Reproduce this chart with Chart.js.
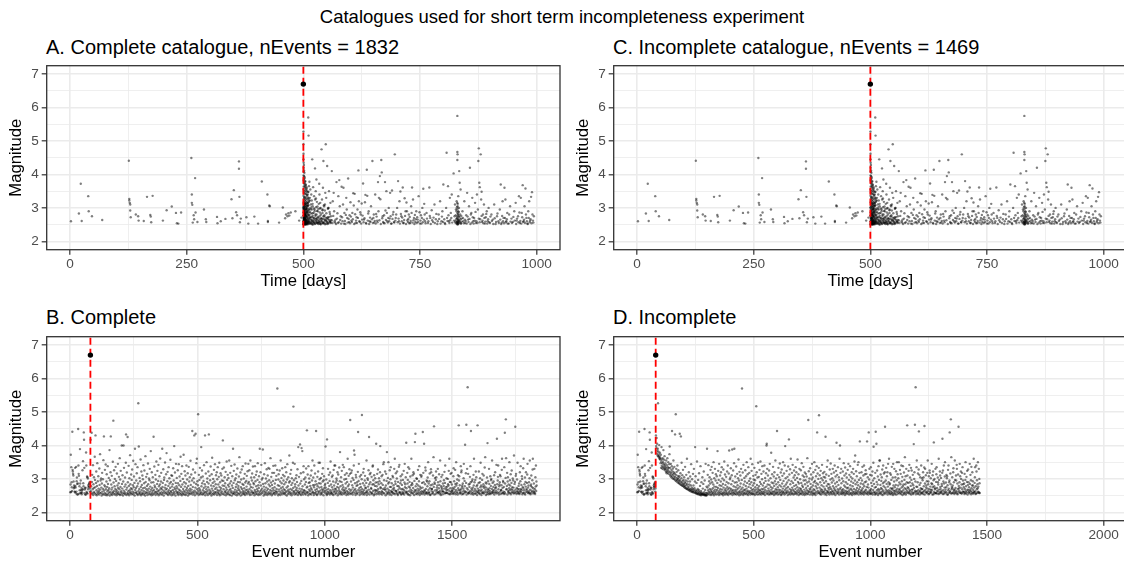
<!DOCTYPE html>
<html>
<head>
<meta charset="utf-8">
<script src="https://cdn.jsdelivr.net/npm/chart.js@4.4.1/dist/chart.umd.min.js"></script>
<style>
  body { margin: 0; width: 1124px; height: 564px; overflow: hidden; background: #fff; position: relative; font-family: "Liberation Sans", Arial, sans-serif; }
  canvas { position: absolute; }
  .title { position: absolute; white-space: nowrap; color: #000; line-height: 1; }
</style>
</head>
<body>
<div class="title" style="left:0;width:1124px;text-align:center;top:8px;font-size:18.5px">Catalogues used for short term incompleteness experiment</div>
<div class="title" style="left:46px;top:37px;font-size:20px">A. Complete catalogue, nEvents = 1832</div>
<div class="title" style="left:613px;top:37px;font-size:20px">C. Incomplete catalogue, nEvents = 1469</div>
<div class="title" style="left:46px;top:307px;font-size:20px">B. Complete</div>
<div class="title" style="left:613px;top:307px;font-size:20px">D. Incomplete</div>

<canvas id="panelA" width="566" height="263" style="left:0;top:30px"></canvas>
<canvas id="panelC" width="566" height="263" style="left:566.6px;top:30px"></canvas>
<canvas id="panelB" width="566" height="264" style="left:0;top:300px"></canvas>
<canvas id="panelD" width="566" height="264" style="left:566.6px;top:300px"></canvas>

<script>
/* Mainshock. */
const mainshockTime = 500
const mainshockMag = 6.7
const mainshockEvent = 80
const firstAftershockEvent = 81

/* Events before the mainshock: [time in days, magnitude], in catalogue order. */
const preShock = [
  [2,2.6],[19,2.83],[23,3.72],[25,2.61],[39,3.35],[40,2.9],[47,2.75],[69,2.64],[126,4.41],[127,3.27],
  [127,3.22],[128,3.15],[129,3.1],[129,2.92],[130,2.72],[141,2.8],[146,2.75],[147,2.62],[158,2.61],[165,3.33],
  [172,2.79],[173,2.74],[174,2.57],[177,3.36],[199,2.62],[207,2.93],[218,3.04],[227,2.85],[229,2.54],[232,2.53],
  [238,2.86],[260,4.49],[261,3.4],[261,3.15],[262,3.09],[263,2.56],[265,2.78],[266,2.66],[268,3.89],[269,2.86],
  [273,2.58],[287,2.95],[291,2.66],[292,2.58],[315,2.73],[316,2.54],[323,2.6],[333,2.67],[346,3.26],[348,2.69],
  [351,3.53],[356,2.87],[358,2.78],[362,4.39],[362,4.17],[363,3.33],[364,2.57],[366,2.68],[378,2.72],[382,2.53],
  [395,2.74],[403,2.53],[411,3.79],[423,3.4],[424,2.61],[424,2.58],[427,3.07],[428,3.05],[448,2.56],[456,3.01],
  [461,2.69],[463,2.8],[466,2.75],[468,2.84],[470,2.77],[473,2.86],[483,2.9],[491,2.62],[496,2.71]
]

/* Aftershocks in both catalogues: [time in days, magnitude]. */
const aftershockColumn = [
  [500.1,5.28],[500.2,4.9],[500.3,4.62],[500.4,4.45],[500.6,4.35],[501.2,4.28],[500.8,4.2],[501.5,4.12],[502.3,4.05],[500.5,3.97],
  [503,3.92],[501,3.86],[504.2,3.8],[502,3.74],[505.1,3.7],[500.9,3.64],[503.6,3.6],[506.3,3.55],[501.7,3.5],[504.8,3.46],
  [502.6,3.42],[507.4,3.39],[500.3,3.36],[503.3,3.33],[505.7,3.3],[501.4,3.28],[508.2,3.25],[502.9,3.22],[504.5,3.2],[500.7,3.17],
  [506.8,3.15],[503.9,3.13],[501.9,3.1],[505.4,3.08],[508.7,3.06],[502.2,3.04],[504,3.02],[500.4,3],[507,2.98],[503.1,2.96],
  [501.3,2.95],[505.9,2.93],[502.5,2.91],[508,2.9],[504.6,2.88],[500.6,2.87],[506.5,2.85],[503.5,2.84],[501.6,2.82],[507.7,2.81],
  [502.8,2.8],[505.2,2.78],[500.2,2.77],[504.3,2.75],[508.9,2.74],[501.1,2.73],[506.1,2.72],[503.7,2.7],[502.1,2.69],[507.2,2.68],
  [500.8,2.67],[505,2.66],[504.1,2.65],[501.8,2.64],[508.4,2.63],[503.2,2.62],[506.7,2.61],[500.5,2.6],[502.4,2.59],[505.6,2.58],
  [504.9,2.57],[501.5,2.56],[507.9,2.55],[503.4,2.55],[500.9,2.54],[506,2.53],[502.7,2.52],[505.3,2.52],[501,2.51],[508.5,2.51],
  [503.8,2.5],[500.3,2.5],[504.7,2.5],
  [500.4,3.55],[501.1,3.45],[502.2,3.72],[503.4,3.65],[504.6,3.52],[505.8,3.41],[507,3.58],[508.3,3.35],[509.5,3.47],[510.6,3.3],
  [511.8,3.22],[500.7,3.82],[501.9,3.31],[503.1,3.15],[504.4,3.26],[505.5,3.12],[506.9,3.05],[508.1,2.98],[509.2,3.14],[510.3,2.92],
  [511.5,2.86],[500.2,3.02],[501.5,2.91],[502.8,3.07],[504,2.83],[505.3,2.97],[506.5,2.76],[507.8,2.88],[509,2.71],[510.2,2.8],
  [511.2,2.66],[500.9,2.77],[502.2,2.69],[503.6,2.58],[504.9,2.64],[506.2,2.53],[507.5,2.6],[508.7,2.55],[509.9,2.62],[511,2.52],
  [512,2.57],[500.6,4.08],[501.4,3.95],[502.6,3.88],[503.8,3.78],[505,3.68],[506.7,3.62],[508,3.5],[509.4,3.4],[510.9,3.28],
  [512.2,3.18],[501.2,2.6],[503,2.7],[504.7,2.79],[506.4,2.95],[508.5,3.1],[510,3.06],[511.6,2.94],[502.9,2.53],[507.3,2.51]
]
const earlyAftershocks = [
  [510.5,5.7],[511.2,5.16],[513,3.78],[519,4.45],[525,4.18],[512,3.65],[515,3.55],[511,3.48],[517,3.4],[521,3.62],
  [514,3.3],[523,3.35],[518,3.22],[527,3.28],[510,3.15],[516,3.1],[529,3.18],[520,3.05],[533,3.12],[512.5,2.98],
  [524,2.95],[537,3],[514.5,2.88],[531,2.9],[519.5,2.84],[541,2.85],[511.5,2.78],[526,2.8],[535,2.76],[516.5,2.72],
  [545,2.74],[522,2.7],[530,2.68],[513.5,2.65],[539,2.66],[527.5,2.62],[518.5,2.6],[548,2.62],[533.5,2.58],[510.8,2.57],
  [523.5,2.56],[543,2.55],[529.5,2.54],[515.5,2.53],[551,2.52],[537.5,2.51],[520.5,2.5],[547,3.45],[539,4.75],[548,4.9],
  [543,4.4],[551,4.25],[561,4.1],[528,3.85],[534,3.72],[542,3.6],[555,3.5],[549,3.3],[558,3.15],[553,3],
  [546,2.92],[557,2.82],[552,2.7],[556,2.6],[559,2.55],[534.5,3.4],[540,3.25],[526.5,3.5],[532,2.97],[544,3.08],
  [505.5,2.62],[506.8,2.74],[507.6,2.57],[508.8,2.86],[509.7,2.55],[510.4,2.68],[511.4,2.59],[512.7,2.78],[513.3,2.53],[514.2,2.7],
  [515.2,2.96],[516.3,2.58],[517.7,2.65],[518.3,2.54],[519.2,2.73],[520.8,2.61],[521.7,2.85],[522.3,2.55],[523.2,2.64],[524.6,2.52],
  [525.8,2.76],[526.2,2.59],[527.6,2.69],[528.7,2.56],[529.2,2.91],[530.6,2.63],[531.7,2.54],[532.9,2.71],[534.2,2.57],[535.6,2.66],
  [536.3,2.52],[537.8,2.8],[538.6,2.6],[540.2,2.68],[541.6,2.55],[542.8,2.75],[544.2,2.58],[545.7,2.64],[547.2,2.53],[548.6,2.7],
  [550.2,2.59],[551.8,2.66],[553.2,2.55],[555.4,2.73],[557.2,2.57],[558.6,2.64],[506.2,3.02],[508.2,3.18],[510.8,3.08],[513.8,3.22],
  [516.8,3.01],[519.8,3.12],[522.6,2.98],[525.2,3.25],[530.3,3.04],[536.2,3.15],[541.2,2.95],[546.2,3.1],[554.2,3]
]
const midAftershocks = [
  [563,3.2],[566,2.9],[569,2.65],[571,3.77],[574,2.55],[577,3.83],[578,3.05],[580,2.75],[582,3.63],[584,2.6],
  [586,3.6],[588,2.85],[590,2.52],[592,3.3],[594,2.7],[596,3.88],[598,2.58],[565,3.45],[575,3.35],[585,3.1],
  [593,2.95],[599,2.78],[568,2.56],[587,2.53],
  [601,3.17],[603,2.62],[605,2.85],[607,3.44],[608,3.07],[610,3.42],[612,2.55],[614,2.72],[616,2.95],[618,4.12],
  [619,3.2],[621,2.58],[623,2.8],[625,3.13],[628,3.73],[630,2.65],[632,3.17],[633,3.39],[635,2.53],[636,4.14],
  [637,3.36],[640,2.9],[642,2.6],[645,3.05],[648,4.4],[650,2.7],[652,2.56],[654,3.4],[656,2.82],[658,2.62],
  [660,3.77],[662,3.3],[664,3.95],[665,3.26],[667,4.43],[668,4.06],[670,2.75],[672,2.55],[675,3.77],[676,2.92],
  [678,3.5],[680,2.6],[683,3],[685,2.68],[686,3.45],[688,2.53],[690,3.52],[692,2.8],[694,2.58],[696,4.6],[698,2.7],
  [701,3],[703,3.8],[705,2.6],[706,3.2],[708,3.49],[710,2.75],[713,3.61],[715,2.55],[717,3.29],[719,2.9],
  [721,3.16],[723,2.63],[726,2.8],[729,2.55],[731,3.05],[733,3.61],[735,3.25],[737,2.7],[740,2.58],[742,2.9],
  [745,2.65],[747,3.35],[750,2.53],[752,2.78],[755,3],[757,3.57],[759,3.12],[761,2.6],[764,2.85],[767,2.55],
  [770,3.61],[772,2.7],[775,2.93],[778,2.58],[781,3.1],[784,2.66],[787,2.52],[790,2.8],[793,3.2],[796,2.6],
  [798,2.9],[800,3.7],[803,2.55],[806,3],[807,4.65],[808,2.7],[810,3.65],[812,2.6],[814,3.3],[816,2.85],
  [818,3.4],[819,2.56]
]
const clusterAftershocks = [
  [822,4.03],[824,2.75],[825,3.1],[826,2.6],[827,2.95],[828,2.55],[828.5,3.2],[829,2.7],[829.5,2.58],[830,5.75],
  [830,4.67],[830.5,4.6],[830,4.43],[830.2,2.85],[830.6,3.05],[831,2.52],[831.3,2.65],[831.8,2.9],[832,3.35],[832.5,2.56],
  [833,2.75],[833.5,3],[834,4.1],[834.5,2.62],[835,3.75],[836,2.8],[837,3.55],[838,2.53],[839,2.68],[830.8,2.5],
  [829.8,3.15],[831.5,2.78],
  [823,2.62],[825.5,2.56],[826.5,2.78],[827.5,2.66],[828.2,2.9],[828.8,2.52],[829.2,3.02],[829.6,2.74],[830.1,2.6],[830.3,2.97],
  [830.4,2.55],[830.7,2.68],[830.9,3.12],[831.2,2.58],[831.6,2.82],[832.2,2.64],[832.8,2.53],[833.2,2.88],[833.8,2.6],[834.3,2.72],
  [835.5,2.57],[836.5,2.66],[837.5,2.54],[838.5,2.76],[839.5,2.59]
]
const lateAftershocks = [
  [841,2.9],[843,2.6],[845,3.2],[847,2.55],[849,2.78],[851,3.45],[853,2.65],[855,3.05],[857,4.2],[858,2.52],
  [860,2.85],[862,3.3],[864,2.6],[866,2.7],[868,3.15],[870,2.55],[872,3.4],[874,2.95],[875,4.4],[876,4.78],
  [877,3.75],[878,3.62],[879,2.66],[880,4.6],[881,3.25],[882,3.48],[883,2.58],[885,2.8],[887,3.1],[889,2.53],
  [891,2.72],[893,2.9],[895,2.6],[897,3],[900,2.55],[903,2.8],[906,2.65],[909,3.1],[912,2.52],[915,2.75],
  [918,2.6],[921,2.95],[923,3.7],[925,2.56],[927,3.2],[929,2.7],[931,3.6],[933,3.25],[935,2.6],[937,2.85],
  [940,2.53],[943,3.05],[946,2.68],[949,2.58],[952,2.9],[955,3.15],[957,2.62],[960,2.75],[962,3.35],[964,2.55],
  [966,3.3],[968,2.85],[970,3.68],[972,2.6],[974,3.05],[976,3.58],[978,2.7],[980,2.53],[982,2.9],[984,3.2],
  [986,2.62],[988,3.33],[990,3.47],[991,2.8],[993,2.56]
]
const lowBandAftershocks = [
  [512.3,2.6],[513.6,2.72],[514.8,2.55],[516,2.83],[517.3,2.64],[518.7,2.51],[520,2.77],[521.4,2.58],[522.8,2.69],[524.1,2.9],
  [525.5,2.53],[526.9,2.66],[528.3,2.8],[529.7,2.57],[531.1,2.73],[532.5,2.52],[533.9,2.62],[535.3,2.86],[536.7,2.55],[538.1,2.7],
  [539.5,2.6],[540.9,2.93],[542.3,2.54],[543.7,2.67],[545.1,2.78],[546.5,2.51],[547.9,2.63],[549.3,2.84],[550.7,2.57],[552.1,2.72],
  [553.5,2.53],[554.9,2.65],[556.3,2.88],[557.7,2.59],[559.1,2.75],[518,2.95],[527.2,3.02],[535.8,2.98],[544.5,3.05],[552.6,2.97],
  [561,2.63],[562.5,2.55],[564,2.76],[567,2.6],[570,2.52],[572,2.68],[573,2.84],[576,2.57],[579,2.64],[581,2.53],
  [583,2.72],[589,2.61],[591,2.79],[595,2.56],[597,2.67],[600,2.54],[602,2.74],[604,2.58],[606,2.66],[609,2.52],
  [611,2.81],[613,2.62],[615,2.55],[617,2.7],[620,2.6],[622,2.87],[624,2.53],[626,2.65],[627,2.77],[629,2.57],
  [631,2.69],[634,2.55],[638,2.62],[639,2.83],[641,2.52],[643,2.71],[644,2.58],[647,2.66],[649,2.55],[651,2.8],
  [653,2.61],[655,2.53],[657,2.74],[659,2.57],[661,2.9],[663,2.63],[666,2.52],[669,2.69],[671,2.58],[673,2.78],
  [674,2.54],[677,2.64],[679,2.85],[681,2.56],[682,2.7],[684,2.6],[687,2.75],[689,2.53],[691,2.67],[693,2.88],
  [695,2.56],[697,2.62],[699,2.8],
  [702,2.57],[704,2.68],[707,2.53],[709,2.82],[711,2.6],[712,2.71],[714,2.55],[716,2.64],[718,2.76],[720,2.52],
  [722,2.9],[724,2.58],[725,2.67],[727,2.54],[728,2.73],[730,2.61],[732,2.85],[734,2.56],[736,2.63],[738,2.52],
  [739,2.79],[741,2.66],[743,2.55],[744,2.72],[746,2.58],[749,2.87],[751,2.62],[753,2.53],[754,2.7],[756,2.57],
  [758,2.65],[760,2.8],[762,2.54],[765,2.68],[768,2.6],[771,2.76],[773,2.52],[776,2.63],[779,2.71],[782,2.55],
  [785,2.82],[788,2.6],[791,2.67],[794,2.53],[797,2.74],[799,2.58],[802,2.66],[804,2.52],[809,2.61],[811,2.78],
  [813,2.55],[815,2.64],[817,2.7],
  [842,2.7],[844,2.54],[846,2.65],[848,2.61],[850,2.53],[852,2.74],[854,2.58],[856,2.67],[859,2.8],[861,2.56],
  [863,2.72],[865,2.53],[867,2.62],[869,2.88],[871,2.6],[873,2.55],[876,2.68],[878,2.57],[882,2.76],[884,2.62],
  [886,2.54],[888,2.7],[890,2.59],[892,2.82],[894,2.53],[896,2.66],[898,2.57],[901,2.74],[904,2.61],[907,2.52],
  [910,2.69],[913,2.58],[916,2.83],[919,2.55],[922,2.65],[924,2.52],[926,2.76],[928,2.6],[930,2.54],[932,2.7],
  [934,2.57],[936,2.66],[938,2.53],[941,2.8],[944,2.59],[947,2.55],[950,2.73],[953,2.62],[956,2.52],[958,2.68],
  [961,2.57],[963,2.86],[965,2.61],[967,2.53],[969,2.72],[971,2.58],[973,2.65],[975,2.55],[977,2.8],[979,2.6],
  [981,2.52],[983,2.7],[985,2.57],[987,2.66],[989,2.54],[992,2.62],[994,2.75]
]
/* Early small aftershocks that only the complete catalogue has. */
const droppedAftershocks = [
  [500.2,2.52],[500.4,2.58],[500.6,2.63],[500.8,2.7],[501,2.55],[501.2,2.76],[501.4,2.6],[501.6,2.83],[501.8,2.53],[502,2.66],
  [502.2,2.9],[502.4,2.57],[502.6,2.72],[502.8,2.62],[503,2.8],[500.3,2.97],[500.7,3.05],[501.1,2.51],[501.5,2.68],[501.9,2.94],
  [502.3,2.54],[502.7,2.78],[500.5,3.12],[500.9,2.86],[501.3,3],[501.7,2.59],[502.1,2.75],[502.5,3.1],[502.9,2.56],[503.2,2.65]
]

/* Aftershock magnitudes in catalogue order, from event 81 on. Complete catalogue (events 81-1832). */
const completeAftershockMags = [
  4.17,2.63,2.78,2.55,4.38,2.91,3.12,2.58,2.69,3.41,2.52,2.84,2.73,3.05,2.61,2.57,3.66,2.97,2.75,4.3,
  2.54,2.88,3.22,2.66,2.51,2.79,3.47,2.6,2.93,2.56,3.08,2.71,2.64,2.53,3.31,2.82,2.59,3.74,2.68,2.95,
  2.57,3.01,2.74,2.5,2.86,3.18,2.62,2.55,2.99,2.7,3.56,2.53,4.27,2.65,2.81,2.58,3.27,2.77,2.52,3.43,
  2.69,2.56,2.92,3.14,2.51,2.76,2.63,3.38,2.85,2.54,2.67,3.03,2.59,2.72,3.86,2.5,2.96,2.61,3.2,4.27,
  2.55,2.83,2.68,3.09,2.52,2.74,2.6,3.51,2.57,4.74,2.89,2.64,3.26,2.53,2.78,3,2.56,2.7,3.36,2.62,
  2.94,2.51,2.66,3.16,2.58,2.8,2.54,3.45,2.73,2.61,2.87,3.06,2.55,2.69,3.62,2.52,2.98,2.76,3.24,2.59,
  2.63,2.53,4,2.85,2.71,3.11,2.57,2.5,2.92,4,2.65,3.33,2.56,2.77,2.6,3.04,2.54,2.83,3.48,4.33,
  2.68,2.52,3.19,2.74,2.58,4.25,2.9,2.55,2.63,3.39,2.79,2.51,3.02,2.66,2.57,3.71,2.84,2.6,2.72,3.13,
  2.54,2.97,2.69,3.28,2.56,2.62,2.81,3.54,2.53,2.75,3.07,2.59,2.88,2.5,3.9,2.67,3.44,2.58,2.73,2.95,
  2.61,3.17,2.55,2.78,3.35,2.52,2.86,5.26,2.64,3.97,2.57,2.7,3.03,2.54,2.93,2.6,3.58,2.76,2.51,3.22,
  2.66,2.82,2.55,3.1,2.58,2.99,2.72,3.41,2.53,2.63,2.87,3.25,2.56,2.74,2.5,3.68,2.91,2.6,3.06,2.69,
  2.57,2.79,3.15,2.52,2.65,3.46,2.84,2.59,2.71,3.01,2.54,2.96,3.3,2.62,2.77,2.55,3.83,2.68,2.89,2.51,
  3.2,2.58,2.73,2.64,3.05,2.53,2.9,4.26,2.67,2.56,3.37,2.8,2.6,2.75,3.12,2.52,2.98,2.62,3.52,2.57,
  2.7,2.85,3.24,2.55,2.63,2.94,3.42,2.51,2.78,2.66,3.08,2.58,2.83,3.61,2.54,2.72,2.92,3.18,2.6,2.69,
  2.53,3.9,2.76,2.88,2.57,3.29,2.65,2.5,2.97,3.04,2.61,2.74,3.49,2.56,2.82,2.68,3.14,2.59,3.77,2.71,
  2.55,2.93,3.21,2.62,2.52,2.79,3.35,2.66,2.58,3.02,2.86,2.54,2.73,3.57,2.6,2.91,2.64,3.11,2.51,2.77,
  3.09,2.57,2.84,2.67,3.32,2.53,2.95,2.61,3.98,2.74,2.56,3.19,2.69,2.5,2.88,3.45,2.63,2.78,3.03,2.59,
  2.72,2.55,3.26,2.87,2.6,2.52,3.44,2.68,2.81,3.07,2.57,2.65,2.94,3.66,2.54,2.76,3.15,2.62,2.51,3.38,
  2.83,2.58,3,2.7,2.55,3.72,2.64,2.9,2.53,3.23,2.77,2.6,3.1,2.52,2.86,2.67,3.4,2.56,2.73,2.98,
  2.61,3.17,2.5,2.79,2.66,3.36,2.57,2.92,2.54,3.05,2.71,2.63,3.54,2.82,2.56,3.13,2.68,2.59,2.95,4.43,
  2.53,2.76,3.28,2.62,3.02,2.57,2.89,4.3,2.65,2.51,3.19,2.74,4.35,2.6,2.85,3.47,2.55,3.6,2.69,2.93,
  2.58,2.81,4.93,2.64,2.52,3.12,2.72,2.97,2.56,3.33,2.67,2.61,2.54,3.04,3.95,2.78,2.59,3.25,2.87,2.53,
  3.07,2.66,2.55,2.94,2.73,3.41,2.58,2.62,2.84,4.3,2.51,2.77,3.16,2.6,2.69,3.5,2.56,2.91,3.01,2.64,
  2.52,2.75,3.22,2.86,4.33,2.57,2.68,3.09,2.55,2.96,2.63,3.37,2.59,2.8,2.5,3.14,2.71,3.63,2.54,2.88,
  2.65,3,2.57,2.78,3.27,2.53,2.92,2.61,3.44,2.7,2.56,2.84,3.11,2.6,2.74,3.2,2.52,2.99,2.67,3.35,
  2.58,2.83,2.63,3.06,2.55,3.48,2.76,2.51,2.9,2.66,3.17,2.59,2.72,3.1,2.54,2.95,2.62,3.3,2.8,4.15,
  2.56,2.94,2.69,3.34,2.53,2.79,3.05,2.6,2.87,2.64,3.21,2.51,2.74,2.58,3.52,2.68,2.97,2.55,3.12,2.82,
  2.61,3.03,2.54,2.77,3.55,2.66,2.86,2.52,3.18,2.7,2.59,2.93,3.39,2.63,2.5,2.8,3.08,2.57,2.73,3.9,
  2.55,2.88,3.24,2.62,2.57,3.43,2.96,2.68,2.53,3.02,2.76,2.6,3.13,2.84,2.51,2.65,3.31,2.58,2.91,2.72,
  2.79,2.54,3.07,2.67,3.65,2.56,2.9,2.62,3.19,2.5,2.75,2.98,2.59,3.28,2.7,2.53,2.85,3.38,2.64,2.57,
  2.82,3.01,2.55,2.72,2.61,3.15,2.52,2.89,3.46,2.66,2.58,2.94,2.77,3.09,2.54,2.68,3.23,2.6,2.86,3.45,
  2.63,2.91,2.56,3.26,2.7,2.52,2.83,3.55,2.59,2.76,3.04,2.65,2.53,2.95,3.16,2.61,2.74,3.37,2.57,2.88,
  2.58,2.84,3.05,2.51,2.67,3.38,2.62,2.93,2.55,3.12,2.78,2.6,3.22,2.69,2.54,2.97,3.47,2.64,2.81,2.52,
  2.73,3.08,2.57,2.9,3.9,2.62,2.53,3.2,2.8,2.66,3.42,2.56,2.98,2.71,2.59,3.03,3.88,2.85,2.63,2.5,
  2.77,3.14,2.55,2.68,3.47,2.61,2.87,2.53,3.01,2.74,2.58,3.29,2.65,2.92,2.52,3.1,2.7,2.56,3.33,2.83,
  2.6,2.96,3.3,2.54,2.78,2.67,3.62,2.57,2.89,3.06,2.63,2.51,2.82,3.18,2.72,2.55,2.94,3.39,2.66,2.59,
  3.18,2.57,2.75,2.86,2.53,3.4,2.64,2.97,2.6,3.09,2.7,2.56,3.27,5.7,2.62,2.81,2.51,2.98,3.14,2.68,
  2.55,2.79,3.25,2.62,2.92,2.52,3.55,2.72,2.58,3.03,2.87,2.65,3.32,2.54,2.76,3.12,2.6,2.95,2.69,2.56,
  2.84,3.08,2.57,2.66,3.35,2.53,2.9,2.61,3.2,2.74,2.5,2.98,3.44,2.64,2.78,2.55,3.05,2.68,2.59,2.89,
  3.7,2.62,2.93,2.54,3.15,2.7,2.58,3.27,2.82,2.51,3.02,2.66,2.88,2.56,3.48,2.73,5.16,2.6,2.96,2.63,
  2.53,3.45,2.77,2.84,2.57,3.02,2.67,2.54,3.11,2.73,2.91,2.6,3.29,2.65,2.52,3.95,2.8,2.58,3.06,2.6,
  2.71,2.55,4.03,2.86,2.63,3.17,2.52,2.94,3.92,2.69,2.57,3.83,2.78,2.61,2.53,3.2,3.38,2.66,2.99,2.59,
  2.65,2.83,2.56,3.04,2.53,2.91,3.31,2.62,2.74,4.45,2.58,2.77,3.13,2.6,2.51,3.38,2.88,2.68,3.01,2.55,
  2.9,2.64,2.79,2.56,3.1,2.72,2.53,3.25,2.68,2.95,2.59,3.55,2.62,2.81,3.04,2.58,2.52,2.75,3.4,2.82,
  2.57,3.16,2.67,2.93,2.61,4.43,2.54,2.84,2.7,2.52,3.06,2.78,2.63,3.22,2.56,3.48,2.87,2.6,2.74,2.99,
  3.48,2.65,2.53,2.86,3.03,2.58,2.76,2.55,2.69,3.15,2.61,2.92,3.32,2.66,2.51,2.96,3.08,2.72,2.59,2.8,
  2.63,2.85,3.97,2.74,2.56,2.98,2.67,2.52,4.18,2.6,2.55,2.88,3.3,2.7,2.62,3.12,2.57,2.79,2.94,2.53,
  3.19,2.66,3.52,2.58,2.83,2.62,2.57,3.06,2.75,2.54,3.1,2.68,2.92,2.52,3.27,2.6,2.8,3.4,2.64,2.71,
  3.4,2.55,2.89,2.69,2.58,3.01,2.95,2.63,2.76,3.2,2.51,2.85,3.13,2.56,2.73,2.66,3.34,2.6,2.93,3.8,
  2.54,2.78,2.62,3.05,2.57,2.91,3.24,2.53,2.69,2.82,3.42,2.59,2.75,2.65,3.35,2.55,2.98,2.67,3.12,2.61,
  2.58,2.86,2.72,3,2.52,3.17,2.64,2.91,2.56,3.6,2.78,2.6,2.53,3.09,2.83,2.69,3.29,2.57,3.15,4.76,
  2.64,2.55,2.92,3.18,2.68,3.25,2.58,2.81,3.03,2.53,2.74,2.61,2.97,3.4,3.85,2.66,3.72,2.57,2.87,2.7,
  2.52,3.12,3.05,2.63,2.79,2.58,2.9,2.55,2.82,3.21,4.4,2.67,2.94,3.45,2.6,2.73,2.52,3.07,2.85,2.66,
  2.56,2.76,3.12,2.61,2.99,4.91,2.7,2.54,2.62,2.87,3.19,2.58,3.3,2.66,2.53,2.8,2.95,3.09,2.57,2.72,
  2.74,2.6,2.88,3.55,2.52,2.65,2.6,3.02,2.97,2.77,2.56,3.26,2.68,4.25,2.84,2.53,3.14,2.62,2.9,3.18,
  2.59,2.73,2.7,3.06,2.55,2.58,2.83,3.37,3.4,2.64,2.96,2.84,2.51,3.11,2.55,2.67,2.79,3.02,2.61,2.89,
  2.66,4.05,2.54,2.78,2.65,3.15,2.9,2.57,3.28,2.7,2.62,2.84,3.02,2.54,2.93,2.6,3.2,3.98,2.75,2.72,
  2.56,2.87,3.08,2.63,2.53,2.6,3.12,2.82,2.7,3.44,2.58,3.5,2.96,2.56,2.68,2.74,3.22,2.68,2.51,2.8,
  3.15,2.62,2.94,3.8,2.55,2.71,2.58,3.03,2.86,3.5,2.6,2.66,2.9,2.53,3.26,2.76,2.57,2.99,3.35,2.64,
  2.76,2.52,2.87,2.61,2.61,3.09,2.69,3.05,2.56,2.81,2.57,2.73,3.3,2.66,3.6,2.54,2.92,2.85,3.17,2.63,
  2.64,2.58,3.01,3.22,2.79,2.55,2.52,2.91,2.68,2.78,3.36,2.6,3.42,2.73,2.57,2.6,2.87,3.08,2.95,2.53,
  2.69,2.55,2.82,3.13,2.61,2.7,2.97,2.56,2.58,3.24,2.66,2.53,2.89,3.45,2.75,2.84,2.62,3.05,2.59,4.08,
  2.72,2.57,2.62,3.18,2.86,2.97,2.54,3.35,2.53,2.77,2.63,3.3,2.91,2.74,2.51,3.07,2.68,2.6,2.81,3.6,
  2.57,2.65,2.88,2.83,3.11,2.56,2.73,3.2,2.6,3.15,2.52,2.94,2.67,4.1,2.62,4.35,2.78,2.55,2.66,3.02,
  2.85,3,2.59,2.54,2.71,3.27,2.8,2.64,2.57,2.93,3.38,2.68,2.52,2.77,3.12,2.6,2.72,2.56,3.06,3.1,
  2.63,2.88,2.55,2.74,4.4,2.61,3.18,2.9,2.58,4.05,2.66,2.53,2.63,2.84,3.34,3.25,2.7,2.57,2.57,2.95,
  2.6,2.92,2.78,3.04,2.54,3.5,2.67,2.86,2.6,2.58,2.93,3.16,2.72,2.52,2.53,2.81,3.29,3.2,2.64,2.7,
  2.7,2.56,2.83,2.58,3.1,2.62,3.65,2.76,4.57,2.53,2.89,2.85,3.03,2.66,2.55,2.97,3.22,3.05,2.61,2.74,
  2.67,2.8,2.57,3.3,2.9,2.6,2.6,2.72,3.14,2.82,2.55,2.64,3.55,2.93,2.58,2.52,2.78,3.06,2.74,2.69,
  2.63,3.12,2.54,2.86,2.62,2.62,2.79,2.96,2.71,3.21,2.56,2.88,3.4,2.58,2.59,2.75,2.69,3.02,2.65,2.58,
  2.77,2.57,3,2.84,2.68,2.8,3.24,2.55,3.6,2.63,2.91,2.54,2.72,3.15,2.9,2.61,2.56,3.18,2.83,2.66,
  2.64,2.73,2.59,2.55,3.08,3.32,2.7,2.93,2.57,2.76,2.62,3.27,2.85,2.54,2.67,3.5,2.8,2.61,2.87,2.98,
  2.58,2.53,3.11,2.72,2.66,4.6,2.95,3.08,2.56,2.81,2.66,2.6,2.58,3.38,2.69,3.2,3.25,2.54,2.75,2.8,
  2.62,2.86,2.55,2.71,3.02,3.45,2.65,2.57,2.94,2.78,4.02,2.61,2.62,3.17,2.88,4.62,2.53,2.72,3.3,2.59,
  5.74,2.68,3.15,2.56,2.83,2.57,2.6,2.76,2.85,3.06,2.64,3.38,2.9,4.43,2.55,2.71,2.6,2.93,2.67,2.98,
  2.74,2.57,2.53,3.12,2.8,3.6,2.63,2.9,2.7,2.56,2.97,2.56,3.22,2.65,3.05,2.78,2.6,2.52,2.82,4.6,
  2.71,2.59,2.63,2.88,3.22,2.66,2.57,2.55,2.9,3.02,2.75,3.48,2.64,2.8,2.52,2.68,2.58,2.97,3.15,2.77,
  2.58,2.62,2.84,3.1,2.56,2.73,2.78,3.34,2.6,3.65,2.67,2.89,2.52,2.74,2.86,2.61,3.04,2.55,4.07,2.69,
  2.93,2.6,2.66,2.54,3.3,2.85,2.72,2.57,2.63,3.08,2.55,2.79,2.96,3,2.58,2.7,3.55,2.61,2.88,2.64,
  2.57,2.76,2.92,2.67,3.11,2.53,2.6,2.82,3.2,2.72,2.59,2.75,2.65,3.42,2.56,4.2,2.84,2.6,2.95,3.06,
  3.4,2.69,2.58,2.53,2.78,2.83,2.9,3.12,2.62,3.08,2.55,2.67,2.66,2.81,3.27,3.6,2.57,2.73,2.58,2.94,
  2.9,2.62,2.76,2.55,3.35,2.6,4.38,2.86,2.56,3.03,4.78,3.62,2.68,2.7,2.79,3.18,2.53,2.92,3.05,2.64,
  2.6,2.83,2.57,2.72,3.5,2.66,2.96,2.8,2.58,3.14,2.54,2.69,2.88,3.25,2.61,2.75,2.67,3.01,2.59,2.95,
  2.74,2.56,3.7,2.63,2.85,2.58,2.91,4.56,2.68,3.09,3.15,2.6,2.55,2.73,2.98,2.64,3.48,2.7,2.57,2.62,
  2.79,2.57,2.86,2.69,2.55,3.2,2.63,2.93,3.38,2.6,2.7,2.82,2.66,3.08,3,2.54,2.76,2.58,3.32,2.72,
  3.6,2.59,2.66,2.84,2.56,3.04,2.53,2.91,2.77,3.2,2.61,2.7,2.66,2.88,3.13,3.45,2.6,2.74,2.57,2.8,
  2.63,2.9,2.58,3.02,3.55,2.68,2.57,2.54,2.79,2.83,3.1,2.65,2.61,2.75,2.96,3.28,3.6,2.56,2.72,2.63,
  2.86,2.6,3.3,2.58,2.69,2.55,3.05,2.77,3.4,2.64,2.92,2.8
]

/* Incomplete catalogue (events 81-1469). */
const incompleteAftershockMags = [
  4.3,3.98,3.92,4.22,3.76,4.05,3.84,3.7,3.9,5.26,3.68,3.81,3.73,3.64,4.01,3.67,3.6,3.78,3.58,3.63,
  3.47,3.72,3.33,3.52,3.95,3.39,3.58,3.31,3.46,3.62,3.36,3.5,3.86,3.29,3.43,3.57,3.34,3.68,3.4,3.3,
  3.26,3.46,3.35,3.21,3.55,3.3,3.17,3.41,3.24,3.62,3.19,3.35,3.28,3.5,3.15,3.33,3.22,3.44,3.74,3.97,
  3.12,3.33,3.2,3.08,3.45,3.16,3.27,3.05,3.38,4.43,3.1,3.22,3.02,3.31,3.14,3.55,3,3.19,3.07,3.36,
  2.98,3.16,4.33,3.05,2.95,4.93,3.12,3.3,2.93,3.21,3.02,2.97,3.4,2.9,3.09,2.99,3.26,2.88,3.04,2.94,
  2.86,3.08,4.35,2.96,2.84,3.17,2.91,4.27,2.82,3.02,3.48,2.88,2.8,3.11,2.93,2.79,3.27,2.85,2.97,2.77,
  2.83,3.05,2.75,2.9,2.79,3.36,2.73,2.87,2.95,2.72,3.12,2.8,2.7,3.6,2.84,2.69,2.92,2.74,3.01,2.68,
  2.77,3.2,2.66,2.83,2.71,2.65,2.92,3.07,2.69,2.63,2.8,3.44,2.67,2.62,2.74,2.99,2.61,2.7,2.64,3.15,
  2.6,2.8,2.68,3.3,2.59,2.72,2.63,2.92,3.95,2.58,3.08,2.66,2.57,2.61,2.88,2.56,3.52,2.65,2.55,2.7,
  2.58,2.97,2.54,2.62,2.67,3.17,2.53,2.6,2.56,2.79,2.52,3.38,2.57,2.64,2.51,2.9,2.55,2.59,2.53,3.05,
  2.55,2.71,2.53,2.85,2.56,3.22,2.52,2.6,2.54,2.95,2.51,2.67,2.53,3.45,2.5,2.58,2.52,2.77,2.51,3.9,
  2.58,2.74,3.12,2.55,2.66,3.41,2.8,2.61,2.93,2.53,3.05,2.7,2.57,2.86,3.27,2.63,2.52,2.98,2.68,3.36,
  2.6,2.9,2.54,3.18,2.72,2.57,2.83,3.5,2.64,2.51,3.02,2.77,2.59,3.3,2.68,2.55,2.95,3.14,2.62,2.76,
  2.53,3.08,2.67,2.88,3.83,2.56,2.73,3.24,2.6,2.97,2.52,3.45,2.65,2.81,2.58,3.1,2.7,2.54,2.92,3.2,
  2.62,2.79,3.35,2.55,2.68,3.01,2.57,2.85,2.51,3.28,2.74,2.6,2.96,3.52,2.56,2.66,3.13,2.53,2.82,2.71,
  2.59,3.06,2.64,2.91,2.54,3.22,2.76,2.57,3.4,2.69,2.52,2.87,3.16,2.61,3.85,2.73,2.56,2.99,2.65,3.04,
  2.55,3.32,2.7,2.84,2.58,3.11,2.63,3.88,2.52,2.94,2.67,3.25,2.57,2.78,2.6,3.47,3.9,2.54,2.89,2.66,
  3.07,2.56,2.75,2.62,3.37,2.53,2.9,2.68,3.15,2.59,2.81,2.55,3.02,2.72,3.58,2.6,2.95,2.51,3.21,2.64,
  2.77,2.57,3.1,2.86,2.53,3.3,2.69,2.61,2.97,5.7,2.56,2.74,3.19,2.63,2.52,3.42,2.83,2.58,2.68,3.03,
  2.55,2.92,2.66,3.26,2.59,2.79,3.08,2.54,2.71,3.5,2.62,2.88,2.56,3.14,2.65,2.52,3.35,2.76,2.6,2.94,
  3.18,2.57,2.84,2.63,3.01,2.53,3.6,2.73,2.58,2.9,3.24,2.67,2.55,3.44,2.61,2.8,2.54,3.09,2.69,2.98,
  2.56,2.87,3.33,2.64,2.52,2.96,2.75,3.12,2.59,2.68,5.17,2.55,3.2,2.82,2.61,3.04,2.53,2.72,3.48,2.66,
  2.6,3.06,2.78,2.54,3.27,2.67,2.91,2.57,3.52,2.63,2.85,2.53,3.15,2.7,2.58,2.99,3.38,2.62,2.8,2.55,
  2.69,3.22,2.56,2.88,2.61,3.4,2.74,2.52,3.03,2.66,2.94,2.59,3.17,2.77,4,4.05,2.55,3.3,2.63,2.83,
  3.1,2.57,2.71,2.95,2.53,3.25,2.65,2.82,3.45,2.6,2.54,3.02,2.76,2.58,3.78,2.68,2.89,2.55,3.14,2.62,
  2.73,2.56,3.36,2.87,2.61,3.07,2.52,2.79,3.2,2.64,2.93,2.57,3.55,2.7,2.54,3.01,2.84,2.6,2.67,4.43,
  2.58,3.12,2.75,2.53,2.9,3.33,2.62,2.68,3.05,2.55,2.81,3.46,2.59,2.97,2.66,3.19,2.52,2.77,2.6,3.28,
  2.54,2.86,3.09,2.63,2.71,3.5,2.57,2.94,2.6,3.16,2.78,2.53,3.4,2.67,3.98,2.56,3.02,2.83,2.61,2.72,
  3.24,2.58,2.89,2.65,3.06,2.52,2.76,3.37,2.61,2.96,4.18,2.55,3.13,2.7,2.59,3.29,2.84,2.53,3.6,2.66,
  2.62,2.93,2.56,3.18,2.74,2.57,3.42,2.68,2.88,2.53,3.04,2.64,3.25,2.79,2.55,3.11,2.6,2.97,2.7,3.35,
  2.57,2.82,3.2,2.63,2.54,3.03,2.75,3.58,2.59,2.91,2.67,3.14,2.52,2.86,2.61,3.3,2.72,2.56,2.99,2.65,
  2.55,3.26,2.7,2.88,2.58,3.47,2.64,2.8,2.53,3.1,2.76,2.6,3.36,2.95,2.56,3.06,2.68,2.52,3.19,2.84,
  2.62,2.96,2.57,3.15,2.73,2.54,3.07,2.66,2.89,3.62,2.59,2.79,2.55,4.76,2.64,3.23,2.92,2.61,3.01,2.71,
  2.53,3.32,2.68,2.85,2.6,3.13,2.75,2.56,2.98,3.45,2.63,2.52,3.04,2.8,2.58,3.2,2.69,2.9,2.55,3.5,
  2.66,2.57,2.94,3.27,2.52,2.78,3.08,2.61,2.87,3.38,2.72,4.39,2.56,3.16,2.64,2.83,3,2.59,3.33,4.9,
  2.58,2.74,3.11,2.55,2.9,2.63,3.24,2.69,2.53,3.02,2.81,2.6,3.42,2.67,2.56,2.96,3.17,2.62,2.77,3.06,
  2.6,2.88,3.21,2.54,2.71,3.04,2.66,4.26,2.57,2.93,3.13,2.52,2.79,3.36,2.64,2.59,3.55,2.85,2.61,2.73,
  2.56,3.09,2.68,2.83,2.53,3.28,2.75,2.6,2.98,3.46,2.57,2.7,3.15,2.62,2.89,2.54,3.02,2.65,3.3,2.78,
  2.61,2.95,2.55,3.19,2.72,2.58,3.4,2.67,2.86,2.52,3.07,2.63,3.24,2.77,4.08,2.56,2.91,3.12,2.6,2.69,
  3.35,2.57,2.82,2.64,3.05,2.53,2.96,3.6,2.7,4,2.59,3.18,2.74,2.55,3.3,2.87,2.62,2.66,3.01,2.58,
  2.54,3.22,2.69,2.93,2.61,3.47,2.57,2.8,3.1,2.65,2.52,3.34,2.76,2.58,2.9,3.16,2.63,2.55,3.04,2.72,
  2.6,2.85,3.27,2.56,2.74,3.45,2.63,2.97,2.53,3.12,2.68,2.59,3.38,2.81,2.55,3.06,2.71,2.92,2.57,3.2,
  2.66,2.52,3.01,2.78,2.6,3.3,2.88,2.56,3.15,2.7,2.62,3.52,2.54,2.95,3.7,2.58,2.84,2.67,3.23,2.61,
  2.55,3.08,2.73,2.9,2.58,3.42,2.64,2.81,3.5,2.53,2.97,2.69,3.18,2.6,4.12,2.76,2.57,3.03,2.86,2.63,
  2.54,3.2,2.67,2.95,2.59,3.36,2.72,2.56,2.84,3.1,2.62,2.53,3.4,2.78,2.6,2.9,3.14,2.65,2.57,3.26,
  2.68,2.92,3.15,2.55,2.76,4.12,2.62,2.58,3.05,2.83,2.53,2.74,4.39,2.6,2.98,3.3,2.66,2.57,3.12,2.55,
  2.64,3.35,2.7,2.88,2.56,3.1,2.59,2.79,3.22,2.53,2.95,2.67,3.48,3.96,2.61,2.85,3.02,2.57,2.74,2.53,
  3.18,2.6,4.41,2.76,2.55,4.05,2.91,2.66,3.25,2.58,2.83,3.07,2.52,2.7,3.38,2.63,2.97,2.56,3.55,2.68,
  3.55,2.57,2.82,3.13,2.6,2.73,2.94,2.54,3.05,2.69,3.28,2.62,2.52,2.87,3.4,2.65,2.78,3.16,2.58,2.91,
  2.55,3.2,4.56,2.74,2.61,2.95,2.68,3.33,2.57,2.85,3.08,2.64,3.2,2.53,2.77,3.45,2.6,2.9,2.66,3.6,
  2.58,2.83,2.55,2.86,3.17,2.63,2.72,3.12,2.54,2.97,2.6,3.36,2.69,2.57,2.72,3.04,2.52,3.45,2.8,2.65,
  2.57,2.92,3.3,2.64,2.75,2.54,3.05,2.6,2.82,3.23,2.67,2.53,2.96,3.5,2.62,2.71,3.14,2.56,2.8,3.02,
  2.6,3.5,2.66,2.89,2.56,2.7,3.27,2.59,2.84,3.15,2.63,2.55,3.4,2.74,2.93,2.61,3.06,2.52,2.78,3.38,
  2.66,2.83,2.58,3.19,2.55,2.97,2.72,3.65,2.6,2.84,3.08,2.53,2.69,3.3,2.57,2.9,2.64,4.6,3.1,2.75,
  2.59,2.88,2.72,3.24,2.6,2.56,3.42,2.67,2.9,3.04,2.63,2.56,2.79,3.33,2.53,2.97,3.25,2.68,2.6,2.86,
  2.68,3.12,2.55,2.81,2.58,4.04,2.73,3,3.2,2.6,4.62,2.65,2.92,5.74,2.54,2.62,2.77,3.35,3.55,2.63,
  2.76,2.57,2.9,3.16,2.55,2.67,3.28,4.42,2.6,3.12,2.82,2.53,2.64,3.05,2.88,2.72,2.59,3.4,2.56,2.69,
  2.58,3.02,2.7,2.96,2.61,3.2,2.55,3.05,2.78,2.64,3.34,4.58,2.53,2.86,3.3,2.67,2.6,3.11,2.74,2.8,
  2.6,2.93,2.57,3.18,2.71,3.55,2.63,2.84,2.92,2.54,3.08,2.56,2.69,3.25,3.18,2.62,2.77,2.58,3.02,2.68,
  2.6,2.87,3.45,2.66,2.84,2.53,3.11,2.75,3.22,2.54,2.96,4.09,2.61,2.78,3,2.57,2.69,2.72,3.3,2.58,
  2.58,2.91,3.14,3.35,2.56,2.73,2.65,2.62,3.04,2.9,2.83,2.55,3.6,2.68,2.97,2.56,2.61,3.22,3.1,2.76,
  2.7,2.58,3.03,2.64,2.6,2.85,2.79,3.18,4.2,2.55,3.25,2.66,2.92,2.55,3.4,2.86,2.61,2.74,3.07,3.5,
  2.57,2.68,2.62,2.89,2.75,3.12,2.59,3.02,3.08,2.53,2.81,2.53,3.27,2.66,3.4,2.71,2.58,2.9,2.95,4.39,
  2.63,2.6,3.16,2.84,4.78,2.56,3.65,2.69,2.76,2.57,3.05,2.72,2.8,2.58,3.2,3.32,2.62,2.9,2.66,2.55,
  2.68,3.55,2.97,2.58,2.73,2.6,3.1,2.95,2.64,3.42,3.3,2.56,2.86,2.54,2.7,3.13,2.61,4.56,2.79,2.72,
  2.65,2.9,3.45,2.58,3.08,2.6,2.74,3.22,3,2.57,2.83,2.56,3.18,2.69,3.35,2.62,2.95,2.84,2.6,2.75,
  2.62,2.86,2.55,3.15,2.7,2.58,2.97,3.5,2.64,2.78,2.56,3.06,2.6,2.91,3.24,2.68,2.53,2.82,3.28,2.66,
  2.9,2.59,2.75,2.62,2.57,3.45,2.85,2.68,3.12,2.64,2.96,2.54,3.36,2.72,2.6,2.8,3.2,2.57,2.93,2.8,
  2.67,2.56,3.6,2.61,2.74,2.6,2.88,3.05,3.35,2.63,2.55,2.78,2.56,3.4,3.22,2.69,2.96,2.58,2.84,2.72,
  3.5,2.62,2.77,2.6,3.3,2.58,3,2.87,2.58
]

/* Axis ticks. */
const timeMajor = [0, 250, 500, 750, 1000]
const timeMinor = [125, 375, 625, 875]
const eventMajorB = [0, 500, 1000, 1500]
const eventMajorD = [0, 500, 1000, 1500, 2000]
const eventMinor = [250, 750, 1250, 1750]
const magMajor = [2, 3, 4, 5, 6, 7]
const magMinor = [2.5, 3.5, 4.5, 5.5, 6.5]

Chart.defaults.font.family = "'Liberation Sans', Arial, sans-serif"

/* Dashed mainshock line under the mainshock point, plus the panel frame. */
const panelDecor = {
  id: "panelDecor",
  beforeDatasetDraw(chart, args, opts) {
    if (args.index !== 0) return
    const { ctx, chartArea, scales } = chart
    const px = scales.x.getPixelForValue(opts.shockX)
    ctx.save()
    ctx.strokeStyle = "#FF0000"
    ctx.lineWidth = 1.8
    ctx.setLineDash([7, 4])
    ctx.beginPath()
    ctx.moveTo(px, chartArea.bottom)
    ctx.lineTo(px, chartArea.top)
    ctx.stroke()
    ctx.restore()
  },
  afterDraw(chart) {
    const { ctx, chartArea } = chart
    ctx.save()
    ctx.strokeStyle = "#333333"
    ctx.lineWidth = 1.3
    ctx.strokeRect(chartArea.left, chartArea.top, chartArea.right - chartArea.left, chartArea.bottom - chartArea.top)
    ctx.restore()
  }
}

const toXY = list => list.map(p => ({ x: p[0], y: p[1] }))

const axisOptions = (min, max, major, minor, title, isX) => ({
  type: "linear",
  min: min,
  max: max,
  afterBuildTicks: scale => {
    scale.ticks = major.concat(minor).sort((a, b) => a - b).map(v => ({ value: v }))
  },
  afterFit: scale => {
    if (isX) scale.height = 43.3
    else scale.width = 46.7
  },
  border: { display: false },
  grid: {
    color: "#EBEBEB",
    lineWidth: c => (c.tick && major.includes(c.tick.value)) ? 1.6 : 0.8,
    tickColor: c => (c.tick && major.includes(c.tick.value)) ? "#333333" : "rgba(0,0,0,0)",
    tickWidth: 1.2,
    tickLength: 5,
    drawTicks: true
  },
  ticks: {
    autoSkip: false,
    maxRotation: 0,
    color: "#4D4D4D",
    font: { size: 13.6 },
    padding: isX ? 1.5 : 3,
    callback: v => major.includes(v) ? String(v) : ""
  },
  title: {
    display: true,
    text: title,
    color: "#000000",
    font: { size: 16.7 },
    padding: isX ? { top: 0, bottom: 1.3 } : { top: 6.6, bottom: 0 }
  }
})

const makePanel = (id, points, shockX, xMin, xMax, xMajor, xMinor, xTitle, topPad) => {
  const ctx = document.getElementById(id).getContext("2d")
  new Chart(ctx, {
    type: "scatter",
    data: {
      datasets: [{
        data: [{ x: shockX, y: mainshockMag }],
        pointRadius: 2.7,
        backgroundColor: "#000000",
        borderWidth: 0
      }, {
        data: toXY(points),
        pointRadius: 1.2,
        backgroundColor: "rgba(0, 0, 0, 0.5)",
        borderWidth: 0
      }]
    },
    options: {
      responsive: false,
      animation: false,
      events: [],
      layout: { padding: { top: topPad, right: 6, left: 0, bottom: 0 } },
      scales: {
        x: axisOptions(xMin, xMax, xMajor, xMinor, xTitle, true),
        y: axisOptions(1.75, 7.25, magMajor, magMinor, "Magnitude", false)
      },
      plugins: {
        legend: { display: false },
        tooltip: { enabled: false },
        panelDecor: { shockX: shockX }
      }
    },
    plugins: [panelDecor]
  })
}

const keptAftershocks = aftershockColumn.concat(earlyAftershocks, lowBandAftershocks, midAftershocks, clusterAftershocks, lateAftershocks)
const completeTime = preShock.concat(droppedAftershocks, keptAftershocks)
const incompleteTime = preShock.concat(keptAftershocks)

/* Event number is the position of an event in the catalogue. */
const preByEvent = preShock.map((p, i) => [i + 1, p[1]])
const completeByEvent = completeAftershockMags.map((m, i) => [firstAftershockEvent + i, m])
const incompleteByEvent = incompleteAftershockMags.map((m, i) => [firstAftershockEvent + i, m])

makePanel("panelA", completeTime, mainshockTime, -50, 1050, timeMajor, timeMinor, "Time [days]", 35.7)
makePanel("panelC", incompleteTime, mainshockTime, -50, 1050, timeMajor, timeMinor, "Time [days]", 35.7)
makePanel("panelB", preByEvent.concat(completeByEvent), mainshockEvent, -91.6, 1923.6, eventMajorB, eventMinor, "Event number", 36.7)
makePanel("panelD", preByEvent.concat(incompleteByEvent), mainshockEvent, -100, 2100, eventMajorD, eventMinor, "Event number", 36.7)
</script>
</body>
</html>
